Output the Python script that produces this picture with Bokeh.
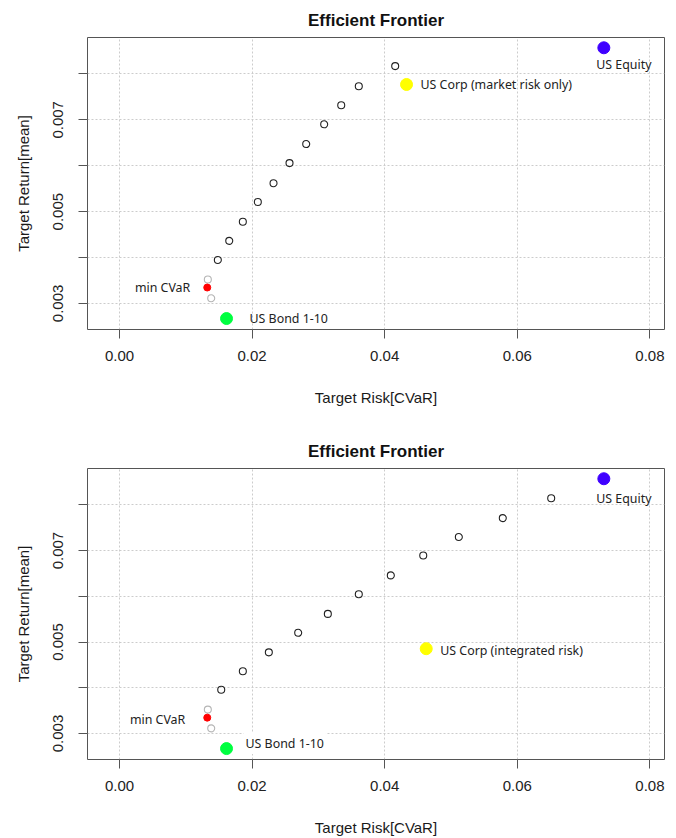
import math
from bokeh.plotting import figure
from bokeh.layouts import column
from bokeh.models import (Range1d, FixedTicker, NumeralTickFormatter, Title, Label)
from bokeh.embed import file_html
from bokeh.resources import INLINE

# ---------------- data ----------------
x_ticks = [0.00, 0.02, 0.04, 0.06, 0.08]
y_ticks_labeled = [0.003, 0.005, 0.007]
y_ticks_unlabeled = [0.004, 0.006, 0.008]

# top panel: market risk only
front1_risk = [0.01483, 0.01655, 0.01860, 0.02086, 0.02323, 0.02564, 0.02816, 0.03087, 0.03344, 0.03609, 0.04158]
front1_ret = [0.003947, 0.004363, 0.004779, 0.005210, 0.005619, 0.006057, 0.006473, 0.006902, 0.007317, 0.007733, 0.008171]

# bottom panel: integrated risk
front2_risk = [0.01534, 0.01860, 0.02252, 0.02695, 0.03142, 0.03609, 0.04092, 0.04581, 0.05118, 0.05781, 0.06511]
front2_ret = [0.003957, 0.004361, 0.004774, 0.005202, 0.005615, 0.006043, 0.006457, 0.006891, 0.007296, 0.007709, 0.008143]

# neighbours of the minimum-CVaR portfolio (grey)
near_risk = [0.01332, 0.01383]
near_ret = [0.003522, 0.003112]

mincvar_risk = 0.01323
mincvar_ret = 0.003346

bond_risk, bond_ret = 0.01614, 0.00267
equity_risk, equity_ret = 0.07305, 0.00857
corp_market_risk, corp_market_ret = 0.04329, 0.00777
corp_integrated_risk, corp_integrated_ret = 0.04626, 0.004854

X_START, X_END = -0.00483, 0.0822
Y_START, Y_END = 0.002431, 0.008794

FONT = "Liberation Sans"
LFONT = "Noto Sans"


def make_panel(front_risk, front_ret, corp_risk, corp_ret, corp_label,
               height, border_top, border_bottom, lab):
    p = figure(width=676, height=height, output_backend="svg", toolbar_location=None,
               x_range=Range1d(X_START, X_END), y_range=Range1d(Y_START, Y_END),
               min_border_left=87, min_border_right=12,
               min_border_top=border_top, min_border_bottom=border_bottom,
               background_fill_color="white", border_fill_color="white")
    p.add_layout(Title(text="Efficient Frontier", align="center", text_font=FONT,
                       text_font_size="17px", text_font_style="bold",
                       text_color="#111111", standoff=lab["tstand"]), "above")
    p.outline_line_color = "#555555"
    p.outline_line_width = 1

    # axes
    xa = p.xaxis[0]
    xa.ticker = FixedTicker(ticks=x_ticks)
    xa.formatter = NumeralTickFormatter(format="0.00")
    xa.axis_label = "Target Risk[CVaR]"
    ya = p.yaxis[0]
    ya.ticker = FixedTicker(ticks=y_ticks_labeled, minor_ticks=y_ticks_unlabeled)
    ya.formatter = NumeralTickFormatter(format="0.000")
    ya.axis_label = "Target Return[mean]"
    ya.major_label_orientation = "vertical"
    for ax in (xa, ya):
        ax.axis_line_color = None
        ax.major_tick_line_color = "#555555"
        ax.minor_tick_line_color = "#555555"
        ax.major_tick_out = 9
        ax.major_tick_in = 0
        ax.minor_tick_out = 9
        ax.minor_tick_in = 0
        ax.major_label_text_font = FONT
        ax.major_label_text_font_size = "15px"
        ax.major_label_text_color = "#222222"
        ax.axis_label_text_font = FONT
        ax.axis_label_text_font_size = "15px"
        ax.axis_label_text_font_style = "normal"
        ax.axis_label_text_color = "#1a1a1a"
    xa.major_label_standoff = 12
    xa.axis_label_standoff = lab["xstand"]
    ya.major_label_standoff = 15
    ya.axis_label_standoff = 19

    # grid
    p.xgrid.grid_line_color = "#cccccc"
    p.xgrid.grid_line_dash = "2 2"
    p.ygrid.grid_line_color = "#cccccc"
    p.ygrid.grid_line_dash = "2 2"
    p.ygrid.minor_grid_line_color = "#cccccc"
    p.ygrid.minor_grid_line_dash = "2 2"

    # points
    p.scatter(front_risk, front_ret, size=7, marker="circle", fill_color=None,
              line_color="#222222", line_width=1.1)
    p.scatter(near_risk, near_ret, size=7, marker="circle", fill_color=None,
              line_color="#b5b5b5", line_width=1.1)
    p.scatter([mincvar_risk], [mincvar_ret], size=7, marker="circle",
              fill_color="#ff0000", line_color="#ff0000")
    p.scatter([bond_risk], [bond_ret], size=12, marker="circle",
              fill_color="#00ff40", line_color="#00ff40")
    p.scatter([corp_risk], [corp_ret], size=12, marker="circle",
              fill_color="#ffff00", line_color="#ffff00")
    p.scatter([equity_risk], [equity_ret], size=12, marker="circle",
              fill_color="#3f00ff", line_color="#3f00ff")

    def lbl(x, y, text, dx, dy, align="left", bg=None):
        l = Label(x=x, y=y, text=text, x_offset=dx, y_offset=dy,
                  text_font=LFONT, text_font_size="12.4px", text_color="#222222",
                  text_align=align, text_baseline="middle")
        if bg:
            l.background_fill_color = bg
            l.padding = 2
        p.add_layout(l)

    lbl(mincvar_risk, mincvar_ret, "min CVaR", lab["min"][0], lab["min"][1], "right")
    lbl(bond_risk, bond_ret, "US Bond 1-10", lab["bond"][0], lab["bond"][1], "left", lab.get("bondbg"))
    lbl(corp_risk, corp_ret, corp_label, 14, lab["corp"], "left")
    lbl(equity_risk, equity_ret, "US Equity", 20, lab["eq"], "center")

    # Rmetrics stamp at the right edge
    p.add_layout(Label(x=X_END, y=Y_START, text="Rmetrics", x_offset=3, y_offset=1,
                       angle=math.pi / 2, text_font=FONT, text_font_size="8px",
                       text_color="#bfa39e", text_align="left", text_baseline="top"))
    return p


p1 = make_panel(front1_risk, front1_ret, corp_market_risk, corp_market_ret,
                "US Corp (market risk only)", 430, 37, 101,
                {"min": (-17, 0), "bond": (23, 0), "corp": 0, "eq": -17, "xstand": 25,
                 "tstand": 15})
p2 = make_panel(front2_risk, front2_ret, corp_integrated_risk, corp_integrated_ret,
                "US Corp (integrated risk)", 408, 38, 79,
                {"min": (-22, -2), "bond": (17, 5), "corp": -2, "eq": -20, "xstand": 25,
                 "tstand": 15, "bondbg": "white"})

layout = column(p1, p2, spacing=0)
open("out.html", "w").write(file_html(layout, INLINE))
